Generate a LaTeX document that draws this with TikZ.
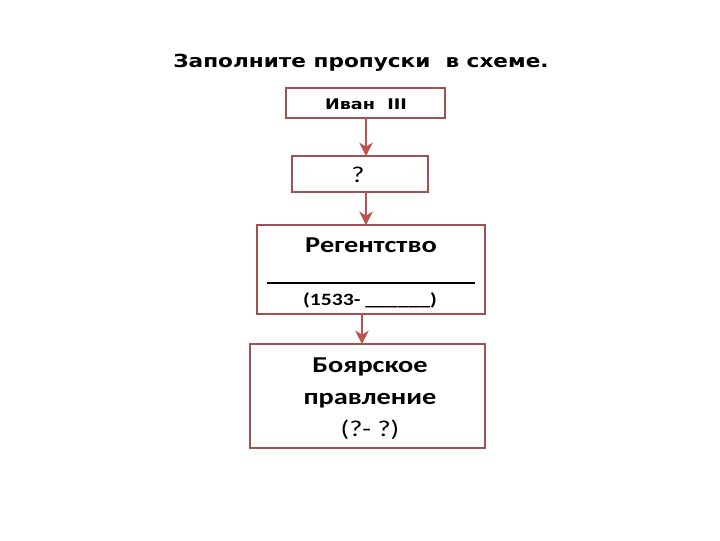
\documentclass[tikz,border=0pt]{standalone}
\usepackage{fontspec}
\setmainfont[FakeStretch=1.25]{Carlito}
\newfontfamily\verd[FakeStretch=1.2]{DejaVu Sans}
\usetikzlibrary{arrows.meta}
\definecolor{boxc}{RGB}{160,82,80}
\definecolor{arrc}{RGB}{192,80,77}
\tikzset{
  box/.style={draw=boxc, line width=1.5pt, inner sep=0pt, fill=white},
  arr/.style={draw=arrc, line width=1.6pt, -{Stealth[length=10pt,width=10pt,inset=3pt]}},
}
\begin{document}
\begin{tikzpicture}[x=0.75pt,y=-0.75pt]
\useasboundingbox (0,0) rectangle (720,540);
\node[font=\verd\bfseries\fontsize{13.5}{16}\selectfont] (title) at (361,63) {Заполните пропуски\ \ в схеме.};
\node[box, minimum width=119pt, minimum height=22.5pt] (b1) at (365.5,103) {};
\node[font=\verd\bfseries\fontsize{11}{13}\selectfont] (t1) at (366,104) {Иван\ \ III};
\node[box, minimum width=102pt, minimum height=27pt] (b2) at (360,174) {};
\node[font=\fontsize{17}{19}\selectfont] (t2) at (358,175) {?};
\node[box, minimum width=171pt, minimum height=66.75pt] (b3) at (371,269.5) {};
\node[font=\bfseries\fontsize{17}{20}\selectfont] (t3) at (371,245) {Регентство};
\coordinate (l1) at (267,283);
\coordinate (l2) at (475,283);
\draw[line width=1pt] (l1) -- (l2);
\node[font=\bfseries\fontsize{13}{15}\selectfont] (t4) at (370,300) {(1533- \_\_\_\_\_\_)};
\node[box, minimum width=176pt, minimum height=78pt] (b4) at (367.5,396) {};
\node[font=\fontsize{17}{24}\selectfont, align=center] (t5) at (370,399) {\textbf{Боярское}\\\textbf{правление}\\(?- ?)};
\coordinate (a1) at (366,118);
\coordinate (a2) at (366,156);
\coordinate (a3) at (366,192);
\coordinate (a4) at (366,225);
\coordinate (a5) at (362,314);
\coordinate (a6) at (362,344);
\draw[arr] (a1) -- (a2);
\draw[arr] (a3) -- (a4);
\draw[arr] (a5) -- (a6);
\end{tikzpicture}
\end{document}
